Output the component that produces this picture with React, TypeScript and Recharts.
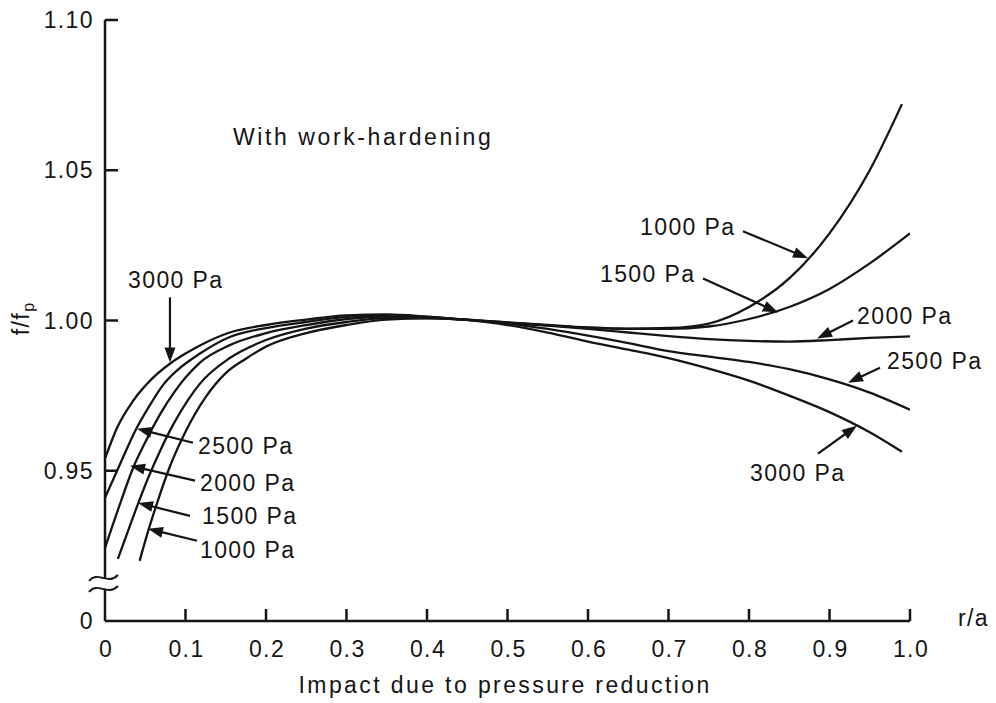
import { LineChart, Line, XAxis, YAxis, ReferenceLine, ReferenceDot } from "recharts";

// f/fp along r/a for each pressure drop
const r1000 = [0.043, 0.053, 0.065, 0.08, 0.1, 0.125, 0.15, 0.175, 0.2, 0.25, 0.3, 0.35, 0.4, 0.45, 0.5, 0.55, 0.6, 0.65, 0.7, 0.75, 0.8, 0.85, 0.9, 0.95, 0.99];
const f1000 = [0.92, 0.9294, 0.9395, 0.951, 0.963, 0.9745, 0.9825, 0.9873, 0.9913, 0.9958, 0.9985, 1.0003, 1.0007, 1.0003, 0.9994, 0.9985, 0.9977, 0.9973, 0.9975, 0.999, 1.0045, 1.014, 1.029, 1.05, 1.072];

const r1500 = [0.016, 0.03, 0.041, 0.055, 0.07, 0.085, 0.103, 0.118, 0.155, 0.2, 0.25, 0.3, 0.35, 0.4, 0.45, 0.5, 0.55, 0.6, 0.65, 0.7, 0.75, 0.8, 0.85, 0.9, 0.95, 1.0];
const f1500 = [0.9207, 0.931, 0.939, 0.9485, 0.9575, 0.9655, 0.9735, 0.979, 0.9875, 0.9935, 0.9973, 0.9995, 1.0008, 1.0008, 1.0002, 0.9993, 0.9984, 0.9976, 0.9972, 0.9972, 0.998, 1.0005, 1.0045, 1.0105, 1.019, 1.029];

const r2000 = [0, 0.02, 0.035, 0.05, 0.07, 0.087, 0.1, 0.118, 0.155, 0.2, 0.25, 0.3, 0.35, 0.4, 0.45, 0.5, 0.55, 0.6, 0.65, 0.7, 0.75, 0.8, 0.85, 0.9, 0.95, 1.0];
const f2000 = [0.9243, 0.94, 0.951, 0.9595, 0.9695, 0.9765, 0.981, 0.986, 0.9918, 0.9958, 0.9985, 1.0005, 1.0012, 1.001, 1.0002, 0.9992, 0.9983, 0.9972, 0.996, 0.9948, 0.9938, 0.9932, 0.993, 0.9935, 0.9942, 0.9947];

const r2500 = [0, 0.02, 0.037, 0.055, 0.072, 0.09, 0.118, 0.155, 0.2, 0.25, 0.3, 0.35, 0.4, 0.45, 0.5, 0.55, 0.6, 0.65, 0.7, 0.75, 0.8, 0.85, 0.9, 0.95, 1.0];
const f2500 = [0.941, 0.953, 0.963, 0.9715, 0.9785, 0.9835, 0.989, 0.9945, 0.9975, 0.9995, 1.0012, 1.0016, 1.0012, 1.0002, 0.999, 0.9972, 0.995, 0.9925, 0.9898, 0.988, 0.9862, 0.9838, 0.9804, 0.976, 0.9703];

const r3000 = [0, 0.015, 0.035, 0.056, 0.081, 0.1, 0.118, 0.155, 0.2, 0.25, 0.3, 0.35, 0.4, 0.45, 0.5, 0.55, 0.6, 0.65, 0.7, 0.75, 0.8, 0.85, 0.9, 0.95, 0.99];
const f3000 = [0.954, 0.9643, 0.9733, 0.98, 0.9857, 0.989, 0.9917, 0.996, 0.9985, 1.0003, 1.0017, 1.002, 1.0013, 1.0002, 0.9985, 0.996, 0.993, 0.9903, 0.9875, 0.984, 0.98, 0.975, 0.9695, 0.9628, 0.9563];

const xTicks = [0, 0.1, 0.2, 0.3, 0.4, 0.5, 0.6, 0.7, 0.8, 0.9, 1.0];
const yTicks = [0.9, 0.95, 1.0, 1.05, 1.1];
const yBreak = 0.9125;

type Callout = { text: string; at: [number, number]; tail: [number, number]; tip: [number, number] };

const callouts: Callout[] = [
  { text: "3000 Pa", at: [0.0286, 1.0107], tail: [0.0807, 1.0077], tip: [0.0807, 0.986] },
  { text: "2500 Pa", at: [0.1155, 0.9557], tail: [0.1093, 0.9593], tip: [0.0398, 0.964] },
  { text: "2000 Pa", at: [0.118, 0.9433], tail: [0.1118, 0.9467], tip: [0.0311, 0.9517] },
  { text: "1500 Pa", at: [0.1205, 0.9323], tail: [0.1056, 0.935], tip: [0.041, 0.9393] },
  { text: "1000 Pa", at: [0.118, 0.921], tail: [0.1143, 0.9267], tip: [0.0534, 0.9307] },
  { text: "1000 Pa", at: [0.6646, 1.0283], tail: [0.7925, 1.0297], tip: [0.8733, 1.0207] },
  { text: "1500 Pa", at: [0.6149, 1.0127], tail: [0.7429, 1.014], tip: [0.836, 1.0027] },
  { text: "2000 Pa", at: [0.9342, 0.999], tail: [0.9292, 1.0], tip: [0.8845, 0.994] },
  { text: "2500 Pa", at: [0.9714, 0.984], tail: [0.9627, 0.9843], tip: [0.923, 0.9793] },
  { text: "3000 Pa", at: [0.8012, 0.9467], tail: [0.8857, 0.9557], tip: [0.934, 0.965] },
];

const series = [
  { name: "1000 Pa", r: r1000, f: f1000 },
  { name: "1500 Pa", r: r1500, f: f1500 },
  { name: "2000 Pa", r: r2000, f: f2000 },
  { name: "2500 Pa", r: r2500, f: f2500 },
  { name: "3000 Pa", r: r3000, f: f3000 },
];

const FONT = '"Liberation Sans", Arial, Helvetica, sans-serif';
const INK = "#151515";
const textStyle = { fontFamily: FONT, fontSize: 23, fill: INK, letterSpacing: 1.4 };

const toPoints = (r: number[], f: number[]) => r.map((x, i) => ({ r: x, f: f[i] }));

function YTick({ x, y, payload }: any) {
  const v = payload.value as number;
  return (
    <g>
      {v > yTicks[0] && <line x1={x} y1={y} x2={x + 13} y2={y} stroke={INK} strokeWidth={2.5} />}
      <text x={x - 11} y={y + 8} textAnchor="end" style={textStyle}>
        {v === yTicks[0] ? "0" : v.toFixed(2)}
      </text>
    </g>
  );
}

function XTick({ x, y, payload }: any) {
  const v = payload.value as number;
  return (
    <g>
      {v > 0 && <line x1={x} y1={y} x2={x} y2={y - 12} stroke={INK} strokeWidth={2.5} />}
      <text x={x + 1} y={y + 36} textAnchor="middle" style={textStyle}>
        {v === 0 ? "0" : v.toFixed(1)}
      </text>
    </g>
  );
}

function Arrow({ x1, y1, x2, y2 }: any) {
  const dx = x2 - x1;
  const dy = y2 - y1;
  const len = Math.hypot(dx, dy) || 1;
  const ux = dx / len;
  const uy = dy / len;
  const head = 15;
  const half = 5.5;
  const bx = x2 - ux * head;
  const by = y2 - uy * head;
  return (
    <g>
      <line x1={x1} y1={y1} x2={bx + ux * 2} y2={by + uy * 2} stroke={INK} strokeWidth={2.2} />
      <polygon
        points={`${x2},${y2} ${bx - uy * half},${by + ux * half} ${bx + uy * half},${by - ux * half}`}
        fill={INK}
      />
    </g>
  );
}

// two wavy strokes marking the cut in the f/fp axis
function BreakMark({ cx, cy }: any) {
  const wave = (y: number) =>
    `M ${cx - 16} ${y + 3} C ${cx - 7} ${y - 8} ${cx + 2} ${y + 8} ${cx + 13} ${y - 3}`;
  return (
    <g fill="none" stroke={INK} strokeWidth={2}>
      <path d={wave(cy - 5.5)} />
      <path d={wave(cy + 5.5)} />
    </g>
  );
}

const textAt = (content: string, anchor: "start" | "middle" | "end" = "start", extra: any = {}) =>
  ({ cx, cy }: any) => (
    <text x={cx} y={cy} textAnchor={anchor} style={{ ...textStyle, ...extra }}>
      {content}
    </text>
  );

function YTitle({ cx, cy }: any) {
  return (
    <text x={cx} y={cy} transform={`rotate(-90 ${cx} ${cy})`} textAnchor="middle" style={textStyle}>
      f/f
      <tspan dy={5} style={{ fontSize: 16 }}>p</tspan>
    </text>
  );
}

export default function App() {
  return (
    <div style={{ position: "absolute", left: 0, top: 0, width: 996, height: 703, background: "#fff" }}>
      <LineChart width={996} height={703} margin={{ top: 20, right: 86, bottom: 42, left: 45 }}>
        <XAxis
          type="number"
          dataKey="r"
          domain={[0, 1]}
          ticks={xTicks}
          allowDataOverflow
          height={40}
          tickSize={0}
          tickMargin={0}
          tickLine={false}
          axisLine={{ stroke: INK, strokeWidth: 2.5 }}
          tick={<XTick />}
        />
        <YAxis
          type="number"
          dataKey="f"
          domain={[0.9, 1.1]}
          ticks={yTicks}
          allowDataOverflow
          width={60}
          tickSize={0}
          tickMargin={0}
          tickLine={false}
          axisLine={false}
          tick={<YTick />}
        />
        <ReferenceLine
          segment={[{ x: 0, y: yTicks[0] }, { x: 0, y: yBreak - 0.0018 }]}
          stroke={INK}
          strokeWidth={2.5}
          ifOverflow="visible"
        />
        <ReferenceLine
          segment={[{ x: 0, y: yBreak + 0.0018 }, { x: 0, y: yTicks[yTicks.length - 1] }]}
          stroke={INK}
          strokeWidth={2.5}
          ifOverflow="visible"
        />
        <ReferenceDot x={0} y={yBreak} r={0} ifOverflow="visible" shape={BreakMark} />
        {series.map((s) => (
          <Line
            key={s.name}
            name={s.name}
            data={toPoints(s.r, s.f)}
            dataKey="f"
            type="monotone"
            stroke={INK}
            strokeWidth={2.3}
            dot={false}
            activeDot={false}
            isAnimationActive={false}
          />
        ))}
        {callouts.map((c, i) => (
          <ReferenceLine
            key={`arrow-${i}`}
            segment={[{ x: c.tail[0], y: c.tail[1] }, { x: c.tip[0], y: c.tip[1] }]}
            ifOverflow="visible"
            shape={Arrow}
          />
        ))}
        {callouts.map((c, i) => (
          <ReferenceDot
            key={`label-${i}`}
            x={c.at[0]}
            y={c.at[1]}
            r={0}
            ifOverflow="visible"
            shape={textAt(c.text)}
          />
        ))}
        <ReferenceDot x={0.159} y={1.0583} r={0} ifOverflow="visible" shape={textAt("With work-hardening", "start", { letterSpacing: 2.6 })} />
        <ReferenceDot x={1.0596} y={0.8983} r={0} ifOverflow="visible" shape={textAt("r/a")} />
        <ReferenceDot x={0.497} y={0.876} r={0} ifOverflow="visible" shape={textAt("Impact due to pressure reduction", "middle", { letterSpacing: 2.4 })} />
        <ReferenceDot x={-0.0944} y={1.0007} r={0} ifOverflow="visible" shape={YTitle} />
      </LineChart>
    </div>
  );
}
